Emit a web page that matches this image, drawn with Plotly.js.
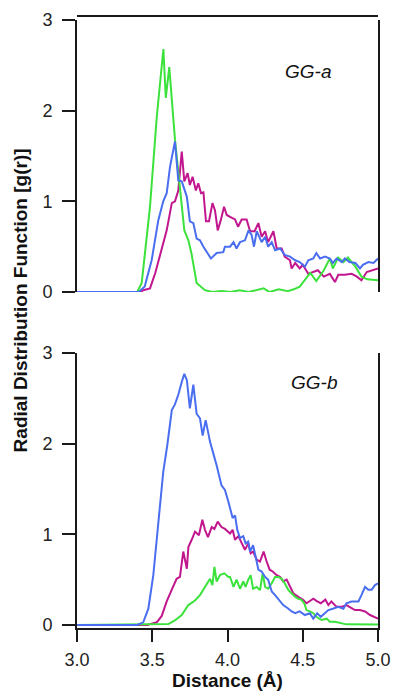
<!DOCTYPE html>
<html>
<head>
<meta charset="utf-8">
<script src="https://cdn.plot.ly/plotly-3.0.1.min.js"></script>
<style>html,body{margin:0;padding:0;background:#fff;}#chart{width:393px;height:691px;}</style>
</head>
<body>
<div id="chart"></div>
<script>
// ---- Data (distance in Å, g(r)) ----
// Panel GG-a (top)
const topGreenX = [3.00, 3.40, 3.43, 3.485, 3.53, 3.574, 3.59, 3.613, 3.651, 3.684, 3.713, 3.74, 3.76, 3.795, 3.85, 3.90, 3.96, 4.02, 4.08, 4.14, 4.20, 4.24, 4.28, 4.34, 4.40, 4.44, 4.48, 4.55, 4.59, 4.64, 4.68, 4.70, 4.735, 4.77, 4.80, 4.85, 4.89, 4.93, 5.00];
const topGreenY = [0, 0, 0.10, 0.94, 1.93, 2.68, 2.14, 2.48, 1.68, 1.15, 0.68, 0.57, 0.43, 0.10, 0.02, 0.0, 0.01, 0.0, 0.02, 0.0, 0.02, 0.04, 0.0, 0.03, 0.01, 0.03, 0.06, 0.21, 0.12, 0.24, 0.37, 0.26, 0.38, 0.33, 0.38, 0.28, 0.17, 0.14, 0.13];

const topBlueX = [3.00, 3.41, 3.45, 3.496, 3.54, 3.573, 3.596, 3.618, 3.651, 3.673, 3.696, 3.73, 3.75, 3.773, 3.795, 3.817, 3.84, 3.862, 3.89, 3.928, 3.972, 3.983, 4.017, 4.04, 4.06, 4.083, 4.116, 4.14, 4.16, 4.176, 4.194, 4.227, 4.25, 4.27, 4.294, 4.316, 4.35, 4.38, 4.415, 4.45, 4.48, 4.514, 4.537, 4.57, 4.59, 4.615, 4.648, 4.68, 4.70, 4.725, 4.76, 4.78, 4.81, 4.85, 4.88, 4.90, 4.936, 4.97, 5.00];
const topBlueY = [0, 0, 0.06, 0.35, 0.79, 1.0, 1.09, 1.38, 1.66, 1.23, 1.22, 1.05, 0.78, 0.76, 0.59, 0.57, 0.50, 0.44, 0.37, 0.43, 0.44, 0.50, 0.50, 0.55, 0.48, 0.55, 0.57, 0.68, 0.63, 0.50, 0.67, 0.55, 0.61, 0.50, 0.55, 0.46, 0.48, 0.41, 0.39, 0.35, 0.33, 0.28, 0.35, 0.37, 0.43, 0.37, 0.39, 0.37, 0.32, 0.37, 0.33, 0.37, 0.33, 0.32, 0.26, 0.30, 0.33, 0.32, 0.37];

const topMagentaX = [3.00, 3.42, 3.44, 3.485, 3.52, 3.563, 3.596, 3.63, 3.651, 3.673, 3.696, 3.713, 3.735, 3.75, 3.768, 3.79, 3.806, 3.824, 3.84, 3.857, 3.877, 3.90, 3.917, 3.935, 3.955, 3.977, 3.995, 4.017, 4.05, 4.07, 4.094, 4.127, 4.15, 4.18, 4.205, 4.227, 4.25, 4.27, 4.305, 4.327, 4.36, 4.38, 4.415, 4.426, 4.45, 4.48, 4.50, 4.537, 4.57, 4.60, 4.64, 4.68, 4.714, 4.736, 4.78, 4.825, 4.86, 4.89, 4.925, 4.958, 5.00];
const topMagentaY = [0, 0, 0.02, 0.04, 0.21, 0.46, 0.68, 0.98, 1.0, 1.12, 1.55, 1.22, 1.31, 1.18, 1.27, 1.12, 1.20, 1.09, 1.10, 0.78, 0.78, 0.98, 0.90, 0.68, 0.79, 0.94, 0.85, 0.83, 0.80, 0.72, 0.80, 0.80, 0.67, 0.67, 0.76, 0.61, 0.67, 0.55, 0.67, 0.48, 0.48, 0.39, 0.35, 0.26, 0.32, 0.26, 0.30, 0.20, 0.22, 0.24, 0.17, 0.20, 0.11, 0.19, 0.19, 0.20, 0.17, 0.13, 0.22, 0.24, 0.26];

// Panel GG-b (bottom)
const botBlueX = [3.00, 3.40, 3.44, 3.474, 3.507, 3.54, 3.573, 3.60, 3.63, 3.65, 3.673, 3.696, 3.713, 3.73, 3.75, 3.773, 3.795, 3.817, 3.835, 3.855, 3.884, 3.906, 3.928, 3.96, 3.983, 4.006, 4.017, 4.034, 4.05, 4.065, 4.083, 4.105, 4.12, 4.138, 4.15, 4.17, 4.19, 4.205, 4.227, 4.25, 4.27, 4.294, 4.316, 4.338, 4.37, 4.405, 4.426, 4.45, 4.48, 4.514, 4.547, 4.57, 4.596, 4.62, 4.65, 4.67, 4.70, 4.736, 4.77, 4.79, 4.825, 4.87, 4.89, 4.914, 4.936, 4.958, 4.98, 5.00];
const botBlueY = [0, 0, 0.03, 0.18, 0.55, 1.14, 1.69, 1.985, 2.37, 2.43, 2.54, 2.68, 2.77, 2.70, 2.39, 2.65, 2.33, 2.28, 2.09, 2.26, 2.02, 1.89, 1.76, 1.54, 1.49, 1.36, 1.30, 1.18, 1.21, 1.05, 0.96, 0.98, 0.90, 0.92, 0.81, 0.88, 0.73, 0.61, 0.59, 0.53, 0.50, 0.37, 0.33, 0.28, 0.22, 0.18, 0.15, 0.13, 0.15, 0.11, 0.13, 0.07, 0.13, 0.09, 0.13, 0.165, 0.18, 0.20, 0.18, 0.24, 0.26, 0.26, 0.33, 0.42, 0.39, 0.39, 0.44, 0.46];

const botMagentaX = [3.00, 3.47, 3.485, 3.53, 3.563, 3.596, 3.63, 3.662, 3.684, 3.706, 3.73, 3.74, 3.762, 3.784, 3.81, 3.833, 3.85, 3.87, 3.895, 3.913, 3.935, 3.96, 3.983, 4.006, 4.017, 4.034, 4.05, 4.072, 4.094, 4.116, 4.138, 4.154, 4.17, 4.194, 4.216, 4.24, 4.26, 4.28, 4.30, 4.327, 4.35, 4.37, 4.393, 4.415, 4.437, 4.47, 4.50, 4.525, 4.547, 4.57, 4.596, 4.62, 4.65, 4.67, 4.69, 4.725, 4.758, 4.79, 4.81, 4.847, 4.88, 4.914, 4.947, 4.98, 5.00];
const botMagentaY = [0, 0, 0.01, 0.03, 0.10, 0.26, 0.39, 0.51, 0.53, 0.81, 0.62, 0.86, 0.94, 1.03, 0.99, 1.16, 1.05, 0.97, 1.08, 1.06, 1.14, 1.08, 1.06, 1.03, 1.01, 1.05, 0.94, 0.98, 0.90, 0.83, 0.90, 0.79, 0.81, 0.72, 0.70, 0.81, 0.70, 0.61, 0.59, 0.55, 0.53, 0.48, 0.50, 0.42, 0.35, 0.31, 0.28, 0.24, 0.26, 0.29, 0.26, 0.24, 0.28, 0.22, 0.26, 0.20, 0.20, 0.22, 0.20, 0.165, 0.165, 0.15, 0.11, 0.09, 0.07];

const botGreenX = [3.00, 3.607, 3.65, 3.696, 3.74, 3.784, 3.817, 3.84, 3.86, 3.884, 3.90, 3.913, 3.928, 3.95, 3.979, 4.006, 4.017, 4.04, 4.06, 4.083, 4.105, 4.12, 4.138, 4.154, 4.17, 4.194, 4.216, 4.234, 4.25, 4.27, 4.294, 4.316, 4.338, 4.36, 4.38, 4.405, 4.426, 4.45, 4.47, 4.49, 4.51, 4.525, 4.547, 4.57, 4.59, 4.625, 4.66, 4.68, 4.714, 4.747, 4.79, 5.00];
const botGreenY = [0, 0.01, 0.05, 0.11, 0.22, 0.27, 0.33, 0.39, 0.44, 0.51, 0.44, 0.64, 0.48, 0.55, 0.57, 0.53, 0.53, 0.42, 0.50, 0.40, 0.48, 0.42, 0.50, 0.55, 0.40, 0.42, 0.385, 0.57, 0.42, 0.40, 0.46, 0.53, 0.53, 0.51, 0.46, 0.385, 0.35, 0.31, 0.29, 0.28, 0.24, 0.165, 0.15, 0.13, 0.09, 0.055, 0.07, 0.035, 0.035, 0.02, 0.007, 0.005];

const xTickVals = [3.0, 3.5, 4.0, 4.5, 5.0];
const xTickText = ['3.0', '3.5', '4.0', '4.5', '5.0'];
const yTickVals = [0, 1, 2, 3];
const panelLabels = ['GG-a', 'GG-b'];

// ---- Styles ----
const GREEN = '#3be23b', BLUE = '#4a6ef0', MAGENTA = '#c2168e';
const FONT = 'Liberation Sans, Arial, Helvetica, sans-serif';
const AX = '#1a1a1a';

function line(x, y, color, xa, ya) {
  return {x: x, y: y, type: 'scatter', mode: 'lines', xaxis: xa, yaxis: ya,
          line: {color: color, width: 2}, hoverinfo: 'skip', showlegend: false};
}

const data = [
  line(topMagentaX, topMagentaY, MAGENTA, 'x2', 'y2'),
  line(topGreenX, topGreenY, GREEN, 'x2', 'y2'),
  line(topBlueX, topBlueY, BLUE, 'x2', 'y2'),
  line(botMagentaX, botMagentaY, MAGENTA, 'x', 'y'),
  line(botGreenX, botGreenY, GREEN, 'x', 'y'),
  line(botBlueX, botBlueY, BLUE, 'x', 'y')
];

const yCommon = {
  tickvals: yTickVals, ticks: 'outside', ticklen: 13, tickwidth: 2, tickcolor: AX,
  showline: true, linewidth: 2, linecolor: AX, mirror: true,
  showgrid: false, zeroline: false, ticklabelstandoff: 6,
  tickfont: {family: FONT, size: 18, color: '#222'}
};

const layout = {
  width: 393, height: 691,
  margin: {l: 77, r: 15, t: 20, b: 63},
  paper_bgcolor: '#fff', plot_bgcolor: '#fff',
  showlegend: false,
  xaxis: {
    range: [3, 5], anchor: 'y', domain: [0, 1],
    tickvals: xTickVals, ticktext: xTickText,
    ticks: 'outside', ticklen: 12, tickwidth: 2, tickcolor: AX,
    showline: true, linewidth: 2, linecolor: AX, mirror: false,
    showgrid: false, zeroline: false, ticklabelstandoff: 2,
    tickfont: {family: FONT, size: 18, color: '#222'},
    title: {text: 'Distance (Å)', font: {family: FONT, size: 19, color: '#111', weight: 'bold'}, standoff: 4}
  },
  yaxis: Object.assign({}, yCommon, {range: [-0.033, 3], domain: [0, 0.4523], anchor: 'x'}),
  xaxis2: {
    range: [3, 5], anchor: 'y2', domain: [0, 1],
    showline: false, showticklabels: false, ticks: '', showgrid: false, zeroline: false
  },
  yaxis2: Object.assign({}, yCommon, {range: [0, 3], domain: [0.5526, 1], anchor: 'x2'}),
  shapes: [
    {type: 'line', xref: 'paper', yref: 'paper', x0: 0, x1: 1, y0: 1.0066, y1: 1.0066,
     line: {color: AX, width: 2}}
  ],
  annotations: [
    {text: panelLabels[0], xref: 'x2', yref: 'y2', x: 4.535, y: 2.43, showarrow: false,
     xanchor: 'center', yanchor: 'middle',
     font: {family: FONT, size: 19, color: '#111', style: 'italic'}},
    {text: panelLabels[1], xref: 'x', yref: 'y', x: 4.575, y: 2.67, showarrow: false,
     xanchor: 'center', yanchor: 'middle',
     font: {family: FONT, size: 19, color: '#111', style: 'italic'}},
    {text: 'Radial Distribution Function [g(r)]', xref: 'paper', yref: 'paper',
     x: -0.189, y: 0.539, textangle: -90, showarrow: false,
     xanchor: 'center', yanchor: 'middle',
     font: {family: FONT, size: 19, color: '#111', weight: 'bold'}}
  ]
};

Plotly.newPlot('chart', data, layout, {staticPlot: true, displayModeBar: false});
</script>
</body>
</html>
